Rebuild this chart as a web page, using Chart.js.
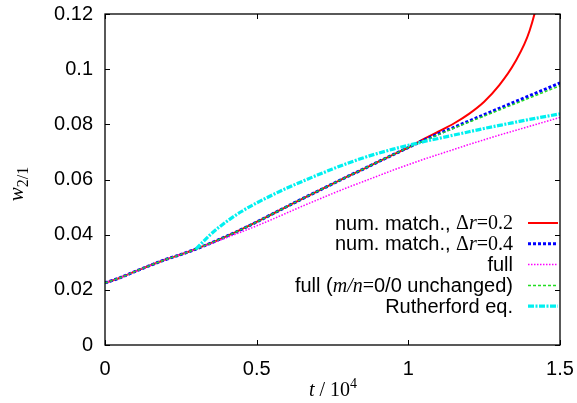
<!DOCTYPE html>
<html>
<head>
<meta charset="utf-8">
<script src="https://cdn.jsdelivr.net/npm/chart.js@4/dist/chart.umd.min.js"></script>
<style>
html,body{margin:0;padding:0;background:#fff;}
#wrap{width:577px;height:403px;}
</style>
</head>
<body>
<div id="wrap"><canvas id="c" width="577" height="403"></canvas></div>
<script>
// time in units of 10^4
const tValues = [0, 0.05, 0.1, 0.15, 0.2, 0.25, 0.3, 0.35, 0.4, 0.45, 0.5, 0.55, 0.6, 0.65, 0.7, 0.75, 0.8, 0.85, 0.9, 0.95, 1.0, 1.05, 1.1, 1.15, 1.2, 1.25, 1.3, 1.35, 1.4, 1.45, 1.5];

const numMatch02 = [0.0225, 0.0244, 0.0267, 0.0289, 0.0310, 0.0328, 0.0348, 0.0370, 0.0394, 0.0419, 0.0446, 0.0474, 0.0502, 0.0530, 0.0557, 0.0584, 0.0611, 0.0637, 0.0664, 0.0690, 0.0716, 0.0746, 0.0774, 0.0803, 0.0838, 0.0882, 0.0942, 0.1022, 0.1140, 0.1360, 0.1660];
const numMatch04 = [0.0225, 0.0244, 0.0267, 0.0289, 0.0310, 0.0328, 0.0348, 0.0370, 0.0394, 0.0419, 0.0446, 0.0474, 0.0502, 0.0530, 0.0557, 0.0584, 0.0611, 0.0637, 0.0664, 0.0690, 0.0716, 0.0742, 0.0766, 0.0789, 0.0812, 0.0835, 0.0858, 0.0881, 0.0904, 0.0927, 0.0950];
const fullModel = [0.0225, 0.0244, 0.0267, 0.0289, 0.0310, 0.0328, 0.0348, 0.0368, 0.0389, 0.0410, 0.0432, 0.0455, 0.0479, 0.0503, 0.0526, 0.0549, 0.0571, 0.0592, 0.0613, 0.0634, 0.0654, 0.0673, 0.0691, 0.0709, 0.0727, 0.0744, 0.0761, 0.0777, 0.0793, 0.0809, 0.0825];
const fullUnchanged = [0.0225, 0.0244, 0.0267, 0.0289, 0.0310, 0.0328, 0.0348, 0.0370, 0.0394, 0.0419, 0.0446, 0.0474, 0.0502, 0.0530, 0.0557, 0.0584, 0.0611, 0.0637, 0.0664, 0.0690, 0.0716, 0.0740, 0.0763, 0.0786, 0.0808, 0.0830, 0.0852, 0.0874, 0.0896, 0.0918, 0.0940];
const rutherford = [null, null, null, null, null, null, 0.0348, 0.0403, 0.0447, 0.0484, 0.0515, 0.0543, 0.0569, 0.0593, 0.0616, 0.0638, 0.0659, 0.0678, 0.0695, 0.0710, 0.0724, 0.0737, 0.0749, 0.0761, 0.0773, 0.0785, 0.0796, 0.0807, 0.0818, 0.0828, 0.0838];

const xTickValues = [0, 0.5, 1, 1.5];
const yTickValues = [0, 0.02, 0.04, 0.06, 0.08, 0.1, 0.12];

// legend labels as rich-text segments
const legendLabels = [
  [['num. match., ','s'],['Δ','r'],['r','i'],['=0.2','r']],
  [['num. match., ','s'],['Δ','r'],['r','i'],['=0.4','r']],
  [['full','s']],
  [['full (','s'],['m/n','i'],['=','r'],['0/0 unchanged)','s']],
  [['Rutherford eq.','s']]
];

function pts(arr){ return tValues.map((t,i)=>({x:t,y:arr[i]})); }

const FS = 20;
const fonts = {
  s: FS + 'px "Liberation Sans", Arial, sans-serif',
  r: FS + 'px "Liberation Serif", "Times New Roman", serif',
  i: 'italic ' + FS + 'px "Liberation Serif", "Times New Roman", serif'
};

const datasets = [
  {label:'num. match., Δr=0.2', data:pts(numMatch02), borderColor:'#ff0000', borderWidth:2, borderDash:[], order:4},
  {label:'num. match., Δr=0.4', data:pts(numMatch04), borderColor:'#0000ff', borderWidth:3, borderDash:[3,2], order:3},
  {label:'full', data:pts(fullModel), borderColor:'#ff00ff', borderWidth:1.5, borderDash:[1.5,1.5], order:2},
  {label:'full (m/n=0/0 unchanged)', data:pts(fullUnchanged), borderColor:'#22dd22', borderWidth:1.5, borderDash:[3,2], order:1},
  {label:'Rutherford eq.', data:pts(rutherford), borderColor:'#00f0f0', borderWidth:3.2, borderDash:[6,1.5,2,1.5], order:0}
];
datasets.forEach(d=>{ d.pointRadius=0; d.fill=false; d.cubicInterpolationMode='monotone'; d.spanGaps=false; d.borderCapStyle='butt'; });

const framePlugin = {
  id:'frame',
  afterDatasetsDraw(chart){
    const ctx = chart.ctx, a = chart.chartArea;
    const xs = chart.scales.x, ys = chart.scales.y;
    ctx.save();
    ctx.strokeStyle = '#000'; ctx.lineWidth = 1.3; ctx.setLineDash([]);
    ctx.strokeRect(a.left, a.top, a.right-a.left, a.bottom-a.top);
    ctx.lineWidth = 1;
    const L = 5;
    yTickValues.forEach(v=>{
      const y = Math.round(ys.getPixelForValue(v))+0.5;
      ctx.beginPath(); ctx.moveTo(a.left, y); ctx.lineTo(a.left+L, y);
      ctx.moveTo(a.right, y); ctx.lineTo(a.right-L, y); ctx.stroke();
    });
    xTickValues.forEach(v=>{
      const x = Math.round(xs.getPixelForValue(v))+0.5;
      ctx.beginPath(); ctx.moveTo(x, a.bottom); ctx.lineTo(x, a.bottom-L);
      ctx.moveTo(x, a.top); ctx.lineTo(x, a.top+L); ctx.stroke();
    });

    // legend
    const rightText = 513, x0 = 528, x1 = 558;
    ctx.textBaseline = 'middle';
    chart.data.datasets.forEach((d,i)=>{
      const y = 223 + i*20.8;
      const segs = legendLabels[i];
      let w = 0;
      segs.forEach(s=>{ ctx.font = fonts[s[1]]; w += ctx.measureText(s[0]).width; });
      let x = rightText - w;
      ctx.fillStyle = '#000'; ctx.textAlign = 'left';
      segs.forEach(s=>{ ctx.font = fonts[s[1]]; ctx.fillText(s[0], x, y+1); x += ctx.measureText(s[0]).width; });
      ctx.strokeStyle = d.borderColor; ctx.lineWidth = d.borderWidth; ctx.setLineDash(d.borderDash||[]);
      ctx.beginPath(); ctx.moveTo(x0, y); ctx.lineTo(x1, y); ctx.stroke();
      ctx.setLineDash([]);
    });

    // x title: t / 10^4
    ctx.fillStyle = '#000'; ctx.textBaseline = 'alphabetic'; ctx.textAlign='left';
    const xt = [['t', fonts.i, 0], [' / 10', fonts.r, 0], ['4', '14px "Liberation Serif", serif', -8]];
    let tw = 0; xt.forEach(s=>{ ctx.font = s[1]; tw += ctx.measureText(s[0]).width; });
    let tx = 333 - tw/2;
    xt.forEach(s=>{ ctx.font = s[1]; ctx.fillText(s[0], tx, 396 + s[2]); tx += ctx.measureText(s[0]).width; });

    // y title: w_{2/1}
    ctx.save();
    ctx.translate(23, 184);
    ctx.rotate(-Math.PI/2);
    const yt = [['w', 'italic 21px "Liberation Serif", serif', 0], ['2/1', '16px "Liberation Serif", serif', 5]];
    let yw = 0; yt.forEach(s=>{ ctx.font = s[1]; yw += ctx.measureText(s[0]).width; });
    let yx = -yw/2;
    yt.forEach(s=>{ ctx.font = s[1]; ctx.fillText(s[0], yx, 0 + s[2]); yx += ctx.measureText(s[0]).width; });
    ctx.restore();
    ctx.restore();
  }
};

function fmt(v){ const s = (Math.round(v*100)/100).toFixed(2); return s.replace(/\.?0+$/,''); }

new Chart(document.getElementById('c'), {
  type:'line',
  data:{datasets},
  options:{
    responsive:false,
    animation:false,
    devicePixelRatio:1,
    layout:{padding:{top:14, right:17, left:0, bottom:0}},
    plugins:{legend:{display:false}, tooltip:{enabled:false}},
    scales:{
      x:{
        type:'linear', min:0, max:1.5,
        grid:{display:false, drawTicks:false},
        border:{display:false},
        afterFit(s){ s.height = 58; s.paddingLeft = 0; s.paddingRight = 0; },
        afterBuildTicks(s){ s.ticks = xTickValues.map(v=>({value:v})); },
        ticks:{color:'#000', padding:12, maxRotation:0, autoSkip:false, font:{family:'"Liberation Sans", Arial, sans-serif', size:20}, callback:(v)=>fmt(v)}
      },
      y:{
        type:'linear', min:0, max:0.12,
        grid:{display:false, drawTicks:false},
        border:{display:false},
        afterFit(s){ s.width = 105; s.paddingTop = 0; s.paddingBottom = 0; },
        afterBuildTicks(s){ s.ticks = yTickValues.map(v=>({value:v})); },
        ticks:{color:'#000', padding:12, autoSkip:false, font:{family:'"Liberation Sans", Arial, sans-serif', size:20}, callback:(v)=>fmt(v)}
      }
    }
  },
  plugins:[framePlugin]
});
</script>
</body>
</html>
